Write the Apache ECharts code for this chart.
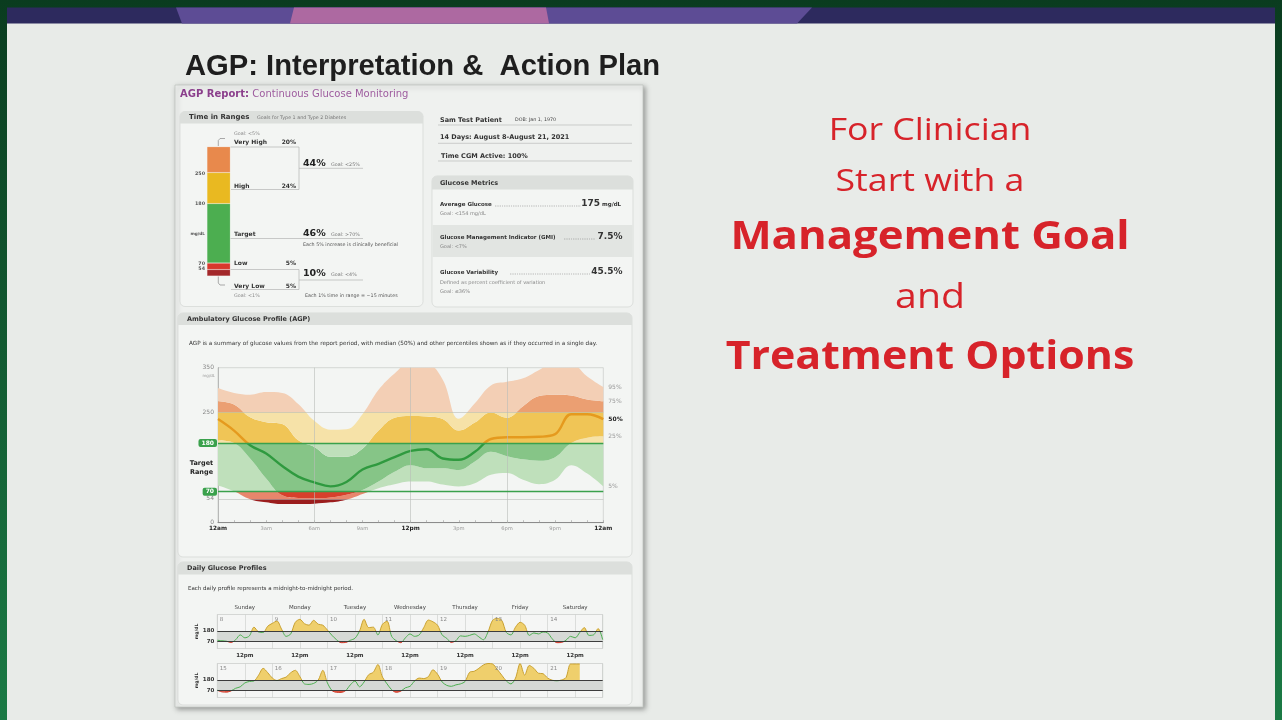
<!DOCTYPE html>
<html>
<head>
<meta charset="utf-8">
<title>AGP: Interpretation &amp; Action Plan</title>
<script src="https://cdn.jsdelivr.net/npm/echarts@6/dist/echarts.min.js"></script>
<style>
  html, body { margin: 0; padding: 0; background: #0c4526; }
  #main { width: 1282px; height: 720px; }
</style>
</head>
<body>
<div id="main"></div>
<script>
/**
 * AGP report slide: time in ranges, AGP percentile bands, daily profiles
 */

// time in ranges, bottom to top
var tirNames = ['Very Low', 'Low', 'Target', 'High', 'Very High'];
var tirValues = [5, 5, 46, 24, 20];

// glucose metrics
var avgGlucose = 175;
var gmiValue = 7.5;
var cvValue = 45.5;

// AGP percentiles, one value per hour from 12am to 12am (mg/dL)
var agpHours = [0, 1, 2, 3, 4, 5, 6, 7, 8, 9, 10, 11, 12, 13, 14, 15, 16, 17, 18, 19, 20, 21, 22, 23, 24];
var agpP95 = [304, 293, 289, 295, 293, 268, 230, 210, 211, 245, 300, 337, 362, 360, 323, 235, 270, 310, 318, 326, 345, 362, 360, 330, 306];
var agpP75 = [274, 267, 238, 227, 223, 186, 171, 149, 149, 167, 208, 237, 241, 240, 234, 208, 226, 249, 237, 263, 286, 289, 287, 278, 274];
var agpP50 = [234, 208, 175, 156, 128, 104, 91, 82, 92, 120, 133, 148, 162, 166, 145, 142, 160, 189, 193, 193, 194, 200, 245, 245, 234];
var agpP25 = [186, 180, 145, 100, 62, 56, 55, 57, 63, 74, 93, 115, 130, 123, 123, 119, 138, 160, 150, 143, 140, 148, 180, 192, 195];
var agpP5 = [84, 71, 53, 46, 42, 42, 43, 46, 52, 65, 78, 87, 93, 93, 86, 82, 89, 108, 112, 97, 87, 97, 130, 111, 82];
var hourLabels = ['12am', '3am', '6am', '9am', '12pm', '3pm', '6pm', '9pm', '12am'];

// daily glucose profiles, one value every 2 hours (mg/dL)
var dayNames = ['Sunday', 'Monday', 'Tuesday', 'Wednesday', 'Thursday', 'Friday', 'Saturday'];
var week1Dates = [8, 9, 10, 11, 12, 13, 14];
var week2Dates = [15, 16, 17, 18, 19, 20, 21];
var week1 = [
	85, 80, 75, 62, 90, 140, 110, 130, 220, 170, 165, 230,
	259, 283, 200, 125, 150, 270, 300, 255, 240, 290, 250, 240,
	190, 135, 90, 60, 62, 85, 105, 180, 300, 215, 220, 140,
	250, 280, 125, 80, 60, 110, 150, 125, 140, 215, 293, 275,
	240, 140, 105, 62, 80, 130, 125, 135, 150, 120, 90, 170,
	290, 310, 290, 165, 140, 220, 270, 240, 135, 160, 150, 170,
	160, 100, 60, 62, 85, 125, 110, 165, 215, 135, 140, 205,
	90
];
var week2 = [
	75, 58, 55, 68, 95, 110, 150, 165, 170, 230, 300, 255,
	200, 175, 195, 210, 255, 280, 215, 140, 135, 145, 180, 280,
	150, 72, 53, 52, 72, 130, 170, 110, 160, 235, 260, 340,
	210, 140, 80, 53, 65, 100, 115, 170, 200, 195, 215, 285,
	240, 160, 125, 115, 130, 140, 165, 260, 270, 300, 335, 350,
	345, 290, 230, 170, 140, 200, 350, 230, 330, 300, 250, 245,
	200, 178, 172, 180, 205, 345, 345, 345, null, null, null, null
];

var FONT = 'DejaVu Sans';
var myChart = echarts.init(document.getElementById('main'));

function diff(a, b) {
	return a.map(function(v, i) { return v - b[i]; });
}
function weekPoints(week) {
	return week.map(function(v, i) { return [i * 2, v]; });
}

// graphic helpers
function txt(x, y, s, size, opt) {
	opt = opt || {};
	return {
		type : 'text', x : x, y : y, z : 10,
		rotation : opt.rotation || 0, scaleX : opt.scaleX || 1,
		style : {
			text : s, fill : opt.color || '#333',
			fontSize : size, fontWeight : opt.bold ? 'bold' : 'normal',
			fontFamily : opt.family || FONT,
			align : opt.align || 'left', verticalAlign : 'middle',
			textAlign : opt.align || 'left', textVerticalAlign : 'middle'
		}
	};
}
function box(x, y, w, h, fill, opt) {
	opt = opt || {};
	return {
		type : 'rect', z : opt.z || -5,
		shape : { x : x, y : y, width : w, height : h, r : opt.r || 0 },
		style : {
			fill : fill, stroke : opt.stroke || null, lineWidth : opt.lineWidth || 0,
			shadowBlur : opt.shadowBlur || 0, shadowColor : opt.shadowColor || 'transparent',
			shadowOffsetX : opt.shadowOffsetX || 0, shadowOffsetY : opt.shadowOffsetY || 0
		}
	};
}
function poly(points, stroke, width, dash) {
	return {
		type : 'polyline', z : 4,
		shape : { points : points },
		style : { stroke : stroke, lineWidth : width, fill : null, lineDash : dash || null }
	};
}

var g = [];
// slide frame and banner
g.push({ type : 'rect', z : -20, shape : { x : 0, y : 0, width : 1282, height : 720 },
	style : { fill : { type : 'linear', x : 0, y : 0, x2 : 0, y2 : 1,
		colorStops : [ { offset : 0, color : '#0a3c1f' }, { offset : 1, color : '#1b7a45' } ] } } });
g.push(box(7, 23, 1268, 697, '#e8ebe8', { z : -19 }));
g.push(box(7, 7.5, 1268, 16, '#2d2a5e', { z : -19 }));
g.push({ type : 'polygon', z : -18, shape : { points : [ [176, 7.5], [812, 7.5], [797, 23.5], [182, 23.5] ] }, style : { fill : '#5d4c95' } });
g.push({ type : 'polygon', z : -17, shape : { points : [ [294, 7.5], [546, 7.5], [549, 23.5], [290, 23.5] ] }, style : { fill : '#ad69a1' } });

// slide title
g.push(txt(185, 67, 'AGP: Interpretation &  Action Plan', 29.2, { bold : true, color : '#1e1e1e', family : '"Liberation Sans", Arial' }));

// right hand message
var red = '#d7232a';
g.push(txt(930, 131, 'For Clinician', 31, { color : red, family : '"Open Sans"', align : 'center', scaleX : 1.15 }));
g.push(txt(930, 182, 'Start with a', 31, { color : red, family : '"Open Sans"', align : 'center', scaleX : 1.15 }));
g.push(txt(930, 238, 'Management Goal', 39, { color : red, family : '"Open Sans"', bold : true, align : 'center', scaleX : 1.12 }));
g.push(txt(930, 298, 'and', 35, { color : red, family : '"Open Sans"', align : 'center', scaleX : 1.12 }));
g.push(txt(930, 358, 'Treatment Options', 39, { color : red, family : '"Open Sans"', bold : true, align : 'center', scaleX : 1.1 }));

// report sheet
g.push(box(175, 85, 468, 622, '#eff1ef', { z : -10, stroke : '#c2c6c2', lineWidth : 0.8,
	shadowBlur : 5, shadowColor : 'rgba(0,0,0,0.35)', shadowOffsetX : 2, shadowOffsetY : 2 }));
g.push({ type : 'text', x : 180, y : 94, z : 10, style : {
	text : '{a|AGP Report:} {b|Continuous Glucose Monitoring}', verticalAlign : 'middle', textVerticalAlign : 'middle',
	rich : {
		a : { fontSize : 10, fontWeight : 'bold', fontFamily : FONT, fill : '#8b3f8c' },
		b : { fontSize : 10, fontFamily : FONT, fill : '#9d5b9e' }
	} } });

// time in ranges panel
g.push(box(180, 111.5, 243, 195, '#f3f5f3', { stroke : '#d3d6d3', lineWidth : 0.7, r : 5 }));
g.push(box(180, 111.5, 243, 12, '#dcdfdc', { z : -4, r : [5, 5, 0, 0] }));
g.push(txt(189, 117.5, 'Time in Ranges', 7, { bold : true }));
g.push(txt(257, 117.5, 'Goals for Type 1 and Type 2 Diabetes', 4.8, { color : '#777' }));

g.push(txt(205, 174, '250', 4.8, { bold : true, color : '#555', align : 'right' }));
g.push(txt(205, 204, '180', 4.8, { bold : true, color : '#555', align : 'right' }));
g.push(txt(205, 234, 'mg/dL', 4.2, { bold : true, color : '#555', align : 'right' }));
g.push(txt(205, 263.5, '70', 4.8, { bold : true, color : '#555', align : 'right' }));
g.push(txt(205, 268.8, '54', 4.8, { bold : true, color : '#555', align : 'right' }));

g.push(txt(234, 134, 'Goal: <5%', 4.8, { color : '#888' }));
g.push(txt(234, 142.5, tirNames[4], 6, { bold : true }));
g.push(txt(296, 142.5, tirValues[4] + '%', 6, { bold : true, align : 'right' }));
g.push(txt(234, 186, tirNames[3], 6, { bold : true }));
g.push(txt(296, 186, tirValues[3] + '%', 6, { bold : true, align : 'right' }));
g.push(txt(234, 234, tirNames[2], 6, { bold : true }));
g.push(txt(234, 263.5, tirNames[1], 6, { bold : true }));
g.push(txt(296, 263.5, tirValues[1] + '%', 6, { bold : true, align : 'right' }));
g.push(txt(234, 286, tirNames[0], 6, { bold : true }));
g.push(txt(296, 286, tirValues[0] + '%', 6, { bold : true, align : 'right' }));
g.push(txt(234, 295.5, 'Goal: <1%', 4.8, { color : '#888' }));

g.push(txt(303, 163.5, (tirValues[3] + tirValues[4]) + '%', 9.5, { bold : true, color : '#222' }));
g.push(txt(331, 164.5, 'Goal: <25%', 4.8, { color : '#777' }));
g.push(txt(303, 234, tirValues[2] + '%', 9.5, { bold : true, color : '#222' }));
g.push(txt(331, 235, 'Goal: >70%', 4.8, { color : '#777' }));
g.push(txt(303, 244.5, 'Each 5% increase is clinically beneficial', 4.8, { color : '#555' }));
g.push(txt(303, 273.5, (tirValues[0] + tirValues[1]) + '%', 9.5, { bold : true, color : '#222' }));
g.push(txt(331, 274.5, 'Goal: <4%', 4.8, { color : '#777' }));
g.push(txt(305, 296, 'Each 1% time in range = ~15 minutes', 4.8, { color : '#555' }));

g.push(poly([ [218.3, 146], [218.3, 140.5], [220, 138.5], [225, 138.5] ], '#888', 0.7));
g.push(poly([ [230.5, 147], [299, 147], [299, 189.5], [231, 189.5] ], '#aaa', 0.6));
g.push(poly([ [299, 168.3], [363, 168.3] ], '#aaa', 0.6));
g.push(poly([ [230.5, 238.5], [363, 238.5] ], '#aaa', 0.6));
g.push(poly([ [230.5, 269.5], [299, 269.5], [299, 289.5], [231, 289.5] ], '#aaa', 0.6));
g.push(poly([ [299, 280], [363, 280] ], '#aaa', 0.6));
g.push(poly([ [218.3, 276.5], [218.3, 283], [220, 285], [225, 285] ], '#888', 0.7));

// patient block
g.push(txt(440, 120, 'Sam Test Patient', 6.5, { bold : true }));
g.push(txt(515, 120, 'DOB: Jan 1, 1970', 4.8, { color : '#444' }));
g.push(poly([ [438, 125], [632, 125] ], '#bbb', 0.7));
g.push(txt(440, 137.5, '14 Days: August 8-August 21, 2021', 6.5, { bold : true }));
g.push(poly([ [438, 143.3], [632, 143.3] ], '#bbb', 0.7));
g.push(txt(441, 156, 'Time CGM Active: 100%', 6.5, { bold : true }));
g.push(poly([ [438, 161], [632, 161] ], '#bbb', 0.7));

// glucose metrics panel
g.push(box(432, 176, 201, 131, '#f3f5f3', { stroke : '#d3d6d3', lineWidth : 0.7, r : 5 }));
g.push(box(432, 176, 201, 13.5, '#dcdfdc', { z : -4, r : [5, 5, 0, 0] }));
g.push(box(432.5, 225, 200, 32, '#e2e5e2', { z : -4 }));
g.push(txt(440, 183, 'Glucose Metrics', 6.5, { bold : true }));
g.push(txt(440, 204.5, 'Average Glucose', 5.5, { bold : true }));
g.push(poly([ [495, 206], [581, 206] ], '#555', 0.6, [0.6, 1.2]));
g.push(txt(600, 203.5, String(avgGlucose), 9, { bold : true, align : 'right' }));
g.push(txt(602, 204.5, 'mg/dL', 5.5, { bold : true }));
g.push(txt(440, 213.5, 'Goal: <154 mg/dL', 5, { color : '#888' }));
g.push(txt(440, 237.5, 'Glucose Management Indicator (GMI)', 5.5, { bold : true }));
g.push(poly([ [564, 239], [595, 239] ], '#555', 0.6, [0.6, 1.2]));
g.push(txt(622.5, 236.5, gmiValue + '%', 9, { bold : true, align : 'right' }));
g.push(txt(440, 246.5, 'Goal: <7%', 5, { color : '#888' }));
g.push(txt(440, 272.3, 'Glucose Variability', 5.5, { bold : true }));
g.push(poly([ [510, 274], [590, 274] ], '#555', 0.6, [0.6, 1.2]));
g.push(txt(622.5, 271.3, cvValue + '%', 9, { bold : true, align : 'right' }));
g.push(txt(440, 282.3, 'Defined as percent coefficient of variation', 5, { color : '#888' }));
g.push(txt(440, 291.7, 'Goal: \u226436%', 5, { color : '#888' }));

// AGP panel
g.push(box(178, 313, 454, 244, '#f3f5f3', { stroke : '#d3d6d3', lineWidth : 0.7, r : 5 }));
g.push(box(178, 313, 454, 12, '#dcdfdc', { z : -4, r : [5, 5, 0, 0] }));
g.push(txt(187, 319, 'Ambulatory Glucose Profile (AGP)', 6.5, { bold : true }));
g.push(txt(189, 343.5, 'AGP is a summary of glucose values from the report period, with median (50%) and other percentiles shown as if they occurred in a single day.', 5.7, { color : '#333' }));
g.push(txt(215, 376, 'mg/dL', 4, { color : '#999', align : 'right' }));
g.push(txt(201.5, 463.5, 'Target', 6.5, { bold : true, color : '#222', align : 'center' }));
g.push(txt(201.5, 472.5, 'Range', 6.5, { bold : true, color : '#222', align : 'center' }));

// daily profiles panel
var DG_LEFT = 217.3, DG_WIDTH = 385.4, DAY_W = DG_WIDTH / 7, ROW1_TOP = 614.5, ROW2_TOP = 663.5, ROW_H = 34;
g.push(box(178, 562, 454, 143, '#f3f5f3', { stroke : '#d3d6d3', lineWidth : 0.7, r : 5 }));
g.push(box(178, 562, 454, 12.5, '#dcdfdc', { z : -4, r : [5, 5, 0, 0] }));
g.push(txt(187, 568.5, 'Daily Glucose Profiles', 6.5, { bold : true }));
g.push(txt(188, 588.3, 'Each daily profile represents a midnight-to-midnight period.', 5.5, { color : '#333' }));
dayNames.forEach(function(d, i) {
	g.push(txt(DG_LEFT + DAY_W * (i + 0.5), 608, d, 5.5, { color : '#444', align : 'center' }));
	g.push(txt(DG_LEFT + DAY_W * i + 2.5, ROW1_TOP + 5, String(week1Dates[i]), 5.5, { color : '#888' }));
	g.push(txt(DG_LEFT + DAY_W * i + 2.5, ROW2_TOP + 5, String(week2Dates[i]), 5.5, { color : '#888' }));
});
g.push(txt(197, ROW1_TOP + 17, 'mg/dL', 4.5, { bold : true, align : 'center', rotation : Math.PI / 2 }));
g.push(txt(197, ROW2_TOP + 17, 'mg/dL', 4.5, { bold : true, align : 'center', rotation : Math.PI / 2 }));

// ---- series ----
var series = [];

// time in ranges stacked bar
var tirColors = [ '#a3282a', '#d8392d', '#4cae50', '#e9b921', '#e8894c' ];
tirNames.forEach(function(name, i) {
	series.push({
		name : name, type : 'bar', stack : 'tir', xAxisIndex : 0, yAxisIndex : 0,
		barWidth : '100%', data : [ tirValues[i] ], silent : true,
		itemStyle : { color : tirColors[i], borderColor : 'rgba(255,255,255,0.45)', borderWidth : 0.4 }
	});
});

// AGP bands (stacked on an hourly category axis, coloured by glucose zone through visualMap)
function agpSeries(extra) {
	var s = { type : 'line', xAxisIndex : 1, yAxisIndex : 1, symbol : 'none', smooth : 0.4, silent : true };
	for (var k in extra) s[k] = extra[k];
	return s;
}
function endLabel(text, bold) {
	return { show : true, formatter : text, fontSize : 6, distance : 5, fontFamily : FONT,
		color : bold ? '#222' : '#999', fontWeight : bold ? 'bold' : 'normal' };
}
var hidden = { width : 0, opacity : 0 };
series.push(agpSeries({ name : '5%', stack : 'agp', data : agpP5, lineStyle : hidden, endLabel : endLabel('5%') }));
series.push(agpSeries({ name : '25%', stack : 'agp', data : diff(agpP25, agpP5), lineStyle : hidden, areaStyle : { opacity : 1 }, endLabel : endLabel('25%') }));
series.push(agpSeries({ name : '75%', stack : 'agp', data : diff(agpP75, agpP25), lineStyle : hidden, areaStyle : { opacity : 1 }, endLabel : endLabel('75%') }));
series.push(agpSeries({ name : '95%', stack : 'agp', data : diff(agpP95, agpP75), lineStyle : hidden, areaStyle : { opacity : 1 }, endLabel : endLabel('95%') }));

var greenLine = { color : '#3aa14c', width : 1.3, type : 'solid' };
var greyLine = { color : '#b8bcb8', width : 0.6, type : 'solid' };
var pill = { show : true, position : 'start', formatter : '{c}', color : '#fff', backgroundColor : '#3aa14c',
	padding : [ 1, 3, 1, 3 ], borderRadius : 2, fontSize : 6, fontWeight : 'bold', fontFamily : FONT, distance : 1 };
var greyLbl = { show : true, position : 'start', formatter : '{c}', color : '#888', fontSize : 6, fontFamily : FONT, distance : 4 };
series.push(agpSeries({
	name : '50%', data : agpP50, lineStyle : { width : 2.4 }, endLabel : endLabel('50%', true),
	markLine : {
		silent : true, symbol : 'none', animation : false,
		data : [
			{ yAxis : 250, lineStyle : greyLine, label : greyLbl },
			{ yAxis : 54, lineStyle : greyLine, label : greyLbl },
			{ xAxis : 6, lineStyle : greyLine, label : { show : false } },
			{ xAxis : 12, lineStyle : greyLine, label : { show : false } },
			{ xAxis : 18, lineStyle : greyLine, label : { show : false } },
			{ yAxis : 180, lineStyle : greenLine, label : pill },
			{ yAxis : 70, lineStyle : greenLine, label : pill }
		]
	}
}));

// daily rows: yellow above 180, red below 70, line on top
function rowSeries(axis, points) {
	function base(extra) {
		var s = { type : 'line', xAxisIndex : axis, yAxisIndex : axis, data : points, symbol : 'none',
			smooth : 0.3, connectNulls : false, silent : true };
		for (var k in extra) s[k] = extra[k];
		return s;
	}
	return [
		base({ lineStyle : hidden, areaStyle : { origin : 'start', opacity : 1 },
			markArea : { silent : true, itemStyle : { color : '#d6d9d6' }, data : [ [ { yAxis : 70 }, { yAxis : 180 } ] ] } }),
		base({ lineStyle : hidden, areaStyle : { origin : 'end', opacity : 1 } }),
		base({ lineStyle : { width : 1 },
			markLine : { silent : true, symbol : 'none', animation : false,
				lineStyle : { color : '#2a2a2a', width : 0.9, type : 'solid' },
				label : { position : 'start', formatter : '{c}', fontSize : 5.5, fontWeight : 'bold', color : '#333', fontFamily : FONT, distance : 3 },
				data : [ { yAxis : 180 }, { yAxis : 70 } ] } })
	];
}
series = series.concat(rowSeries(2, weekPoints(week1)), rowSeries(3, weekPoints(week2)));
// indices: 0-4 bars, 5-9 AGP, 10-12 week 1, 13-15 week 2

var lightBand = [
	{ lt : 54, color : '#9b1d1d' }, { gte : 54, lt : 70, color : '#e8866c' },
	{ gte : 70, lte : 180, color : '#bfe0bb' }, { gt : 180, lte : 250, color : '#f6e2a8' }, { gt : 250, color : '#f3cfb5' }
];
var darkBand = [
	{ lt : 54, color : '#9b1d1d' }, { gte : 54, lt : 70, color : '#d8402c' },
	{ gte : 70, lte : 180, color : '#86c587' }, { gt : 180, lte : 250, color : '#f0c556' }, { gt : 250, color : '#eb9f72' }
];
var clear = 'rgba(0,0,0,0)';

function vm(idx, pieces) {
	return { type : 'piecewise', show : false, dimension : 1, seriesIndex : idx, pieces : pieces };
}

var dayAxisLabel = { show : true, fontSize : 5.5, fontWeight : 'bold', color : '#333', margin : 4, fontFamily : FONT,
	formatter : function(v) { return v % 24 === 12 ? '12pm' : ''; } };

myChart.setOption({
	animation : false,
	textStyle : { fontFamily : FONT },
	graphic : { elements : g },
	grid : [
		{ left : 207, top : 146.7, width : 23.3, height : 129.3, outerBoundsMode : 'none' },
		{ left : 218, top : 367.7, width : 385.3, height : 155, show : true, borderColor : '#bfc3bf', borderWidth : 0.6, outerBoundsMode : 'none' },
		{ left : DG_LEFT, top : ROW1_TOP, width : DG_WIDTH, height : ROW_H, show : true, backgroundColor : '#f5f6f5', borderColor : '#bfc3bf', borderWidth : 0.6, outerBoundsMode : 'none' },
		{ left : DG_LEFT, top : ROW2_TOP, width : DG_WIDTH, height : ROW_H, show : true, backgroundColor : '#f5f6f5', borderColor : '#bfc3bf', borderWidth : 0.6, outerBoundsMode : 'none' }
	],
	xAxis : [
		{ gridIndex : 0, type : 'category', data : [ 'Time in Ranges' ], show : false },
		{ gridIndex : 1, type : 'category', data : agpHours, boundaryGap : false,
			axisLine : { show : true, lineStyle : { color : '#777', width : 0.8 } },
			axisTick : { show : true, inside : true, length : 2.5, interval : 0, lineStyle : { color : '#999', width : 0.6 } },
			splitLine : { show : false },
			axisLabel : { margin : 3, interval : 2,
				formatter : function(v, i) {
					var s = hourLabels[Math.round(i / 3)];
					return i % 12 === 0 ? '{b|' + s + '}' : '{n|' + s + '}';
				},
				rich : {
					b : { fontSize : 5.8, fontWeight : 'bold', color : '#222', fontFamily : FONT },
					n : { fontSize : 5.2, color : '#999', fontFamily : FONT }
				} } },
		{ gridIndex : 2, type : 'value', min : 0, max : 168, interval : 12,
			axisLine : { show : false }, axisTick : { show : false },
			splitLine : { show : true, lineStyle : { color : '#c9ccc9', width : 0.6 } },
			axisLabel : dayAxisLabel },
		{ gridIndex : 3, type : 'value', min : 0, max : 168, interval : 12,
			axisLine : { show : false }, axisTick : { show : false },
			splitLine : { show : true, lineStyle : { color : '#c9ccc9', width : 0.6 } },
			axisLabel : { show : false } }
	],
	yAxis : [
		{ gridIndex : 0, type : 'value', min : 0, max : 100, show : false },
		{ gridIndex : 1, type : 'value', min : 0, max : 350, interval : 350,
			axisLine : { show : true, lineStyle : { color : '#999', width : 0.6 } },
			axisTick : { show : false }, splitLine : { show : false },
			axisLabel : { fontSize : 6, color : '#888', margin : 4 } },
		{ gridIndex : 2, type : 'value', min : 0, max : 350, show : false },
		{ gridIndex : 3, type : 'value', min : 0, max : 350, show : false }
	],
	visualMap : [
		vm([ 6, 8 ], lightBand),
		vm([ 7 ], darkBand),
		vm([ 9 ], [ { lt : 70, color : '#c0392b' }, { gte : 70, lte : 180, color : '#2f9a3f' }, { gt : 180, color : '#e59a1e' } ]),
		vm([ 10, 13 ], [ { lt : 0, color : clear }, { gte : 0, lte : 180, color : clear }, { gt : 180, color : '#efcf6c' } ]),
		vm([ 11, 14 ], [ { lt : 70, color : '#e0533f' }, { gte : 70, lte : 1000, color : clear }, { gt : 1000, color : clear } ]),
		vm([ 12, 15 ], [ { lt : 70, color : '#d04030' }, { gte : 70, lte : 180, color : '#4caf50' }, { gt : 180, color : '#c8a030' } ])
	],
	series : series
});
</script>
</body>
</html>
